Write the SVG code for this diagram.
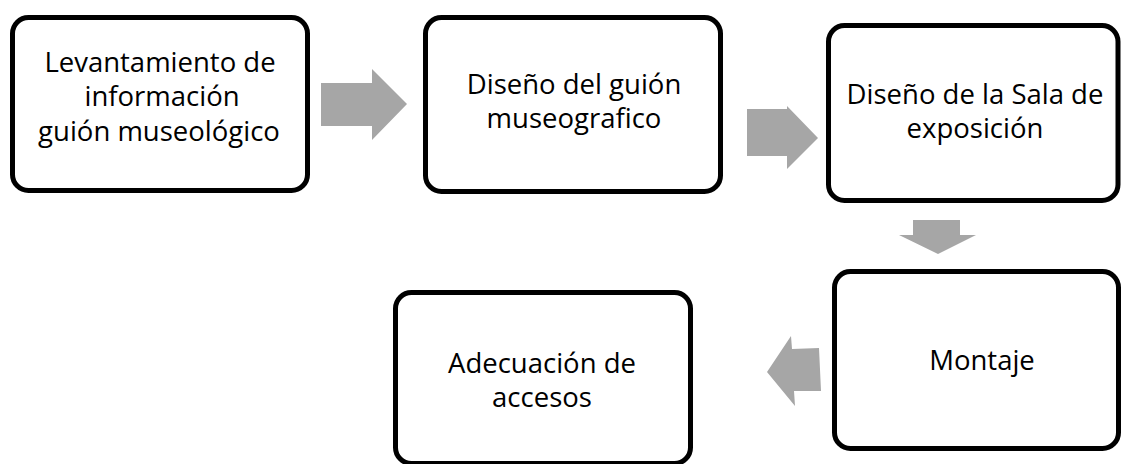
<svg xmlns="http://www.w3.org/2000/svg" width="1121" height="464" viewBox="0 0 1121 464">
<style>
.box{fill:#ffffff;stroke:#000000;stroke-width:5}
.lbl{font-family:"Open Sans","Noto Sans","Liberation Sans",sans-serif;font-size:27.5px;fill:#000000;text-anchor:middle}
.arr{fill:#a6a6a6;stroke:none}
</style>
<rect width="1121" height="464" fill="#ffffff"/>
<g id="connectors">
<polygon class="arr" points="321,83 372,83 372,69 407,104 372,140 372,126 321,126"/>
<polygon class="arr" points="747,109 787,109 787,106 818,138 787,169 787,156 747,156"/>
<polygon class="arr" points="913,220 960,220 960,235 976,235 938,254 899,235 913,235"/>
<polygon class="arr" points="819,348 792,349 791,336 767,372 795,406 794,391 821,391"/>
</g>
<g id="node1">
<rect class="box" x="12.5" y="17.5" width="295" height="173" rx="16"/>
<text class="lbl" x="160" y="72">Levantamiento de</text>
<text class="lbl" x="162" y="106">información</text>
<text class="lbl" x="159" y="141">guión museológico</text>
</g>
<g id="node2">
<rect class="box" x="425.5" y="17.5" width="295" height="174" rx="16"/>
<text class="lbl" x="574" y="94">Diseño del guión</text>
<text class="lbl" x="574" y="128">museografico</text>
</g>
<g id="node3">
<rect class="box" x="828.5" y="25.5" width="289.5" height="175" rx="16"/>
<text class="lbl" x="975" y="104">Diseño de la Sala de</text>
<text class="lbl" x="975" y="138">exposición</text>
</g>
<g id="node4">
<rect class="box" x="834.5" y="271.5" width="284" height="177" rx="16"/>
<text class="lbl" x="982" y="370">Montaje</text>
</g>
<g id="node5">
<rect class="box" x="395.5" y="292.5" width="295" height="171" rx="16"/>
<text class="lbl" x="542" y="373">Adecuación de</text>
<text class="lbl" x="542" y="407">accesos</text>
</g>
</svg>
